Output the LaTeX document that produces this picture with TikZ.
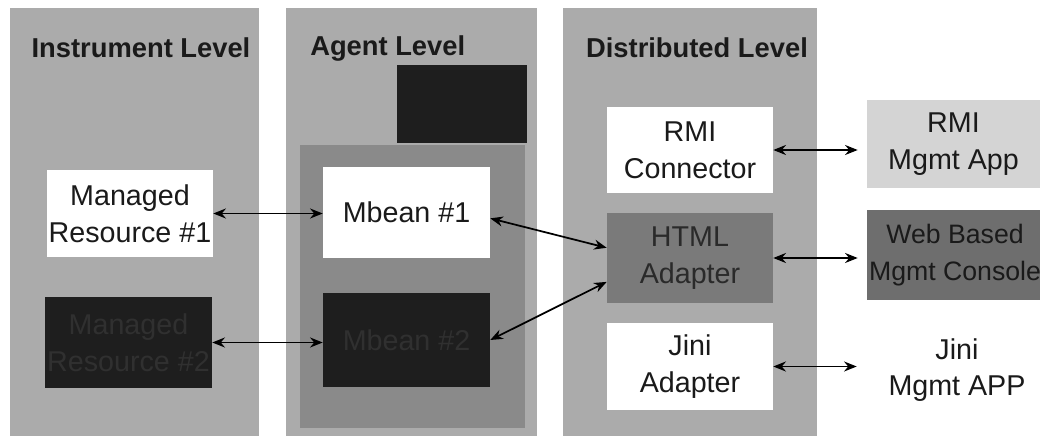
\documentclass[tikz,border=0pt]{standalone}
\usepackage{fontspec}
\setmainfont{Liberation Sans}
\usetikzlibrary{arrows.meta}

\definecolor{levelbg}{HTML}{ABABAB}
\definecolor{agentframe}{HTML}{8A8A8A}
\definecolor{darkbox}{HTML}{1E1E1E}
\definecolor{darktext}{HTML}{303030}
\definecolor{midbox}{HTML}{7A7A7A}
\definecolor{midtext}{HTML}{2A2A2A}
\definecolor{webbox}{HTML}{6E6E6E}
\definecolor{appbox}{HTML}{D4D4D4}
\definecolor{inktext}{HTML}{1A1A1A}

\begin{document}
\begin{tikzpicture}[x=0.75pt,y=-0.75pt,
  every node/.style={font=\fontsize{21.5}{27.5}\selectfont, text=inktext,
    align=center, inner sep=0pt},
  level/.style={fill=levelbg},
  title/.style={font=\bfseries\fontsize{20.5}{24}\selectfont, text=inktext},
  box/.style={minimum width=124.5pt, minimum height=66pt},
  whitebox/.style={box, fill=white},
  blackbox/.style={box, fill=darkbox, text=darktext},
  graybox/.style={box, fill=midbox, text=midtext},
  link/.style={{Stealth[length=9.5pt,width=7.5pt]}-{Stealth[length=9.5pt,width=7.5pt]},
    line width=1.3pt, draw=black}
]
\useasboundingbox (0,0) rectangle (1040,442);
\fill[white] (0,0) rectangle (1040,442);

% the three level columns
\path[level] (10,8) rectangle (259,436);
\path[level] (286,8) rectangle (537,436);
\path[level] (563,8) rectangle (817,436);

% shaded frame around the MBeans
\fill[agentframe] (300,145) rectangle (525,428);

% column titles
\node[title] (tinst) at (141,48) {Instrument Level};
\node[title, anchor=west] (tagent) at (310,48) {Agent Level};
\node[title] (tdist) at (697,48) {Distributed Level};

% instrument level
\node[whitebox, minimum height=65.25pt] (mr1) at (130,213.5) {Managed\\Resource \#1};
\node[blackbox, minimum width=125.25pt, minimum height=68.25pt] (mr2) at (128.5,342.5) {Managed\\Resource \#2};

% agent level
\node[fill=darkbox, minimum width=97.5pt, minimum height=58.5pt] (server) at (462,104) {};
\node[whitebox, minimum width=125.25pt, minimum height=68.25pt] (mb1) at (406.5,212.5) {Mbean \#1};
\node[blackbox, minimum width=125.25pt, minimum height=70.5pt] (mb2) at (406.5,340) {Mbean \#2};

% distributed level
\node[whitebox, minimum height=64.5pt] (rmi) at (690,150) {RMI\\Connector};
\node[graybox, minimum height=67.5pt] (html) at (690,258) {HTML\\Adapter};
\node[whitebox, minimum height=65.25pt] (jini) at (690,366.5) {Jini\\Adapter};

% management applications
\node[box, fill=appbox, minimum width=129.75pt] (rmiapp) at (953.5,144) {RMI\\Mgmt App};
\node[box, fill=webbox, minimum width=132pt, minimum height=67.5pt,
      font=\fontsize{20}{27.5}\selectfont] (web) at (955,255) {Web Based\\Mgmt Console};
\node[box] (jiniapp) at (957,370) {Jini\\Mgmt APP};

% connectors
\draw[link] (mr1.east) -- (mr1.east -| mb1.west);
\draw[link] (mr2.east) -- (mr2.east -| mb2.west);
\draw[link] (mb1.-4) -- (html.173);
\draw[link] (mb2.east) -- (html.196);
\draw[link, shorten >=6.75pt] (rmi.east) -- (rmi.east -| rmiapp.west);
\draw[link, shorten >=6.75pt] (html.east) -- (html.east -| web.west);
\draw[link, shorten >=12.75pt] (jini.east) -- (jini.east -| jiniapp.west);
\end{tikzpicture}
\end{document}
